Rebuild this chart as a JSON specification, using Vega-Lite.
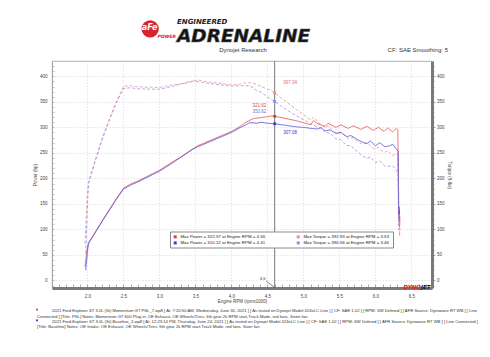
{
"$schema": "https://vega.github.io/schema/vega-lite/v6.json",
"width": 380, "height": 227,
"autosize": {"type": "none"},
"padding": {"left": 52, "top": 61, "right": 58, "bottom": 69},
"background": "white",
"config": {
 "view": {"stroke": "#a0a0a0", "strokeWidth": 0.8},
 "font": "Liberation Sans",
 "axis": {"labelFont": "Liberation Sans", "titleFont": "Liberation Sans", "titleFontWeight": "normal", "labelColor": "#444", "titleColor": "#444"}
},
"data": {"values": [{}]},
"datasets": {
 "curves": [
  {"series":"run1 power","rpm":1.965,"value":27},{"series":"run1 power","rpm":1.98,"value":45},{"series":"run1 power","rpm":1.995,"value":62},{"series":"run1 power","rpm":2.01,"value":73},{"series":"run1 power","rpm":2.03,"value":77.5},{"series":"run1 power","rpm":2.1,"value":93},{"series":"run1 power","rpm":2.2,"value":116},{"series":"run1 power","rpm":2.3,"value":138},{"series":"run1 power","rpm":2.4,"value":160},{"series":"run1 power","rpm":2.5,"value":181},{"series":"run1 power","rpm":2.6,"value":189},{"series":"run1 power","rpm":2.7,"value":195},{"series":"run1 power","rpm":2.8,"value":202},{"series":"run1 power","rpm":2.9,"value":209},{"series":"run1 power","rpm":3.0,"value":216},{"series":"run1 power","rpm":3.1,"value":225},{"series":"run1 power","rpm":3.2,"value":234},{"series":"run1 power","rpm":3.3,"value":242},{"series":"run1 power","rpm":3.4,"value":251},{"series":"run1 power","rpm":3.53,"value":264.1},{"series":"run1 power","rpm":3.6,"value":268},{"series":"run1 power","rpm":3.7,"value":274},{"series":"run1 power","rpm":3.8,"value":280},{"series":"run1 power","rpm":3.9,"value":286},{"series":"run1 power","rpm":4.0,"value":292},{"series":"run1 power","rpm":4.1,"value":300},{"series":"run1 power","rpm":4.2,"value":310},{"series":"run1 power","rpm":4.3,"value":317},{"series":"run1 power","rpm":4.4,"value":319},{"series":"run1 power","rpm":4.5,"value":321},{"series":"run1 power","rpm":4.56,"value":322.57},{"series":"run1 power","rpm":4.6,"value":321.62},{"series":"run1 power","rpm":4.7,"value":319},{"series":"run1 power","rpm":4.8,"value":316},{"series":"run1 power","rpm":4.9,"value":313},{"series":"run1 power","rpm":5.0,"value":309},{"series":"run1 power","rpm":5.1,"value":305},{"series":"run1 power","rpm":5.14,"value":313},{"series":"run1 power","rpm":5.2,"value":307},{"series":"run1 power","rpm":5.3,"value":302},{"series":"run1 power","rpm":5.34,"value":308},{"series":"run1 power","rpm":5.45,"value":300},{"series":"run1 power","rpm":5.52,"value":305},{"series":"run1 power","rpm":5.62,"value":298},{"series":"run1 power","rpm":5.69,"value":303},{"series":"run1 power","rpm":5.8,"value":296},{"series":"run1 power","rpm":5.88,"value":302},{"series":"run1 power","rpm":5.97,"value":294},{"series":"run1 power","rpm":6.04,"value":300},{"series":"run1 power","rpm":6.12,"value":292},{"series":"run1 power","rpm":6.17,"value":299},{"series":"run1 power","rpm":6.24,"value":291},{"series":"run1 power","rpm":6.29,"value":298},{"series":"run1 power","rpm":6.31,"value":295},{"series":"run1 power","rpm":6.32,"value":190},{"series":"run1 power","rpm":6.325,"value":120},{"series":"run1 power","rpm":6.33,"value":140},{"series":"run1 power","rpm":6.335,"value":105},{"series":"run1 power","rpm":6.34,"value":125},
  {"series":"run1 torque","rpm":1.965,"value":72.2},{"series":"run1 torque","rpm":1.98,"value":119.4},{"series":"run1 torque","rpm":1.995,"value":163.2},{"series":"run1 torque","rpm":2.01,"value":190.7},{"series":"run1 torque","rpm":2.03,"value":200.5},{"series":"run1 torque","rpm":2.1,"value":232.6},{"series":"run1 torque","rpm":2.2,"value":276.9},{"series":"run1 torque","rpm":2.3,"value":315.1},{"series":"run1 torque","rpm":2.4,"value":350.1},{"series":"run1 torque","rpm":2.5,"value":380.2},{"series":"run1 torque","rpm":2.6,"value":381.8},{"series":"run1 torque","rpm":2.7,"value":379.3},{"series":"run1 torque","rpm":2.8,"value":378.9},{"series":"run1 torque","rpm":2.9,"value":378.5},{"series":"run1 torque","rpm":3.0,"value":378.1},{"series":"run1 torque","rpm":3.1,"value":381.2},{"series":"run1 torque","rpm":3.2,"value":384.0},{"series":"run1 torque","rpm":3.3,"value":385.1},{"series":"run1 torque","rpm":3.4,"value":387.7},{"series":"run1 torque","rpm":3.53,"value":392.93},{"series":"run1 torque","rpm":3.6,"value":391.0},{"series":"run1 torque","rpm":3.7,"value":388.9},{"series":"run1 torque","rpm":3.8,"value":387.0},{"series":"run1 torque","rpm":3.9,"value":385.1},{"series":"run1 torque","rpm":4.0,"value":383.4},{"series":"run1 torque","rpm":4.1,"value":384.3},{"series":"run1 torque","rpm":4.2,"value":387.6},{"series":"run1 torque","rpm":4.3,"value":387.2},{"series":"run1 torque","rpm":4.4,"value":380.8},{"series":"run1 torque","rpm":4.5,"value":374.6},{"series":"run1 torque","rpm":4.56,"value":371.6},{"series":"run1 torque","rpm":4.6,"value":367.34},{"series":"run1 torque","rpm":4.7,"value":356.5},{"series":"run1 torque","rpm":4.8,"value":345.8},{"series":"run1 torque","rpm":4.9,"value":335.5},{"series":"run1 torque","rpm":5.0,"value":324.6},{"series":"run1 torque","rpm":5.1,"value":314.1},{"series":"run1 torque","rpm":5.14,"value":319.8},{"series":"run1 torque","rpm":5.2,"value":310.1},{"series":"run1 torque","rpm":5.3,"value":299.3},{"series":"run1 torque","rpm":5.34,"value":302.9},{"series":"run1 torque","rpm":5.45,"value":289.1},{"series":"run1 torque","rpm":5.52,"value":290.2},{"series":"run1 torque","rpm":5.62,"value":278.5},{"series":"run1 torque","rpm":5.69,"value":279.7},{"series":"run1 torque","rpm":5.8,"value":268.0},{"series":"run1 torque","rpm":5.88,"value":269.7},{"series":"run1 torque","rpm":5.97,"value":258.6},{"series":"run1 torque","rpm":6.04,"value":260.9},{"series":"run1 torque","rpm":6.12,"value":250.6},{"series":"run1 torque","rpm":6.17,"value":254.5},{"series":"run1 torque","rpm":6.24,"value":244.9},{"series":"run1 torque","rpm":6.29,"value":248.8},{"series":"run1 torque","rpm":6.31,"value":245.5},{"series":"run1 torque","rpm":6.32,"value":157.9},{"series":"run1 torque","rpm":6.325,"value":99.6},{"series":"run1 torque","rpm":6.33,"value":116.2},{"series":"run1 torque","rpm":6.335,"value":87.1},{"series":"run1 torque","rpm":6.34,"value":103.5},
  {"series":"run2 power","rpm":1.975,"value":20},{"series":"run2 power","rpm":1.99,"value":42},{"series":"run2 power","rpm":2.005,"value":63},{"series":"run2 power","rpm":2.02,"value":74},{"series":"run2 power","rpm":2.03,"value":76},{"series":"run2 power","rpm":2.1,"value":92},{"series":"run2 power","rpm":2.2,"value":115},{"series":"run2 power","rpm":2.3,"value":137},{"series":"run2 power","rpm":2.4,"value":159},{"series":"run2 power","rpm":2.5,"value":179},{"series":"run2 power","rpm":2.6,"value":187},{"series":"run2 power","rpm":2.7,"value":193},{"series":"run2 power","rpm":2.8,"value":200},{"series":"run2 power","rpm":2.9,"value":207},{"series":"run2 power","rpm":3.0,"value":214},{"series":"run2 power","rpm":3.1,"value":223},{"series":"run2 power","rpm":3.2,"value":232},{"series":"run2 power","rpm":3.3,"value":242},{"series":"run2 power","rpm":3.4,"value":252},{"series":"run2 power","rpm":3.46,"value":257.3},{"series":"run2 power","rpm":3.55,"value":263},{"series":"run2 power","rpm":3.6,"value":266},{"series":"run2 power","rpm":3.7,"value":272},{"series":"run2 power","rpm":3.8,"value":278},{"series":"run2 power","rpm":3.9,"value":284},{"series":"run2 power","rpm":4.0,"value":290},{"series":"run2 power","rpm":4.1,"value":298},{"series":"run2 power","rpm":4.2,"value":305},{"series":"run2 power","rpm":4.25,"value":309},{"series":"run2 power","rpm":4.3,"value":309},{"series":"run2 power","rpm":4.35,"value":308},{"series":"run2 power","rpm":4.41,"value":310.12},{"series":"run2 power","rpm":4.5,"value":308},{"series":"run2 power","rpm":4.6,"value":307.08},{"series":"run2 power","rpm":4.7,"value":305},{"series":"run2 power","rpm":4.8,"value":303},{"series":"run2 power","rpm":4.9,"value":301},{"series":"run2 power","rpm":5.0,"value":300},{"series":"run2 power","rpm":5.1,"value":298},{"series":"run2 power","rpm":5.2,"value":297},{"series":"run2 power","rpm":5.25,"value":299},{"series":"run2 power","rpm":5.3,"value":293},{"series":"run2 power","rpm":5.37,"value":295},{"series":"run2 power","rpm":5.45,"value":288},{"series":"run2 power","rpm":5.52,"value":290},{"series":"run2 power","rpm":5.6,"value":282},{"series":"run2 power","rpm":5.66,"value":284},{"series":"run2 power","rpm":5.75,"value":276},{"series":"run2 power","rpm":5.82,"value":271},{"series":"run2 power","rpm":5.88,"value":268},{"series":"run2 power","rpm":5.93,"value":273},{"series":"run2 power","rpm":6.0,"value":264},{"series":"run2 power","rpm":6.06,"value":270},{"series":"run2 power","rpm":6.13,"value":262},{"series":"run2 power","rpm":6.2,"value":264},{"series":"run2 power","rpm":6.24,"value":267},{"series":"run2 power","rpm":6.3,"value":256},{"series":"run2 power","rpm":6.315,"value":252},{"series":"run2 power","rpm":6.32,"value":140},{"series":"run2 power","rpm":6.325,"value":130},{"series":"run2 power","rpm":6.33,"value":145},
  {"series":"run2 torque","rpm":1.975,"value":53.2},{"series":"run2 torque","rpm":1.99,"value":110.8},{"series":"run2 torque","rpm":2.005,"value":165.0},{"series":"run2 torque","rpm":2.02,"value":192.4},{"series":"run2 torque","rpm":2.03,"value":196.6},{"series":"run2 torque","rpm":2.1,"value":230.1},{"series":"run2 torque","rpm":2.2,"value":274.5},{"series":"run2 torque","rpm":2.3,"value":312.8},{"series":"run2 torque","rpm":2.4,"value":347.9},{"series":"run2 torque","rpm":2.5,"value":376.0},{"series":"run2 torque","rpm":2.6,"value":377.7},{"series":"run2 torque","rpm":2.7,"value":375.4},{"series":"run2 torque","rpm":2.8,"value":375.1},{"series":"run2 torque","rpm":2.9,"value":374.9},{"series":"run2 torque","rpm":3.0,"value":374.6},{"series":"run2 torque","rpm":3.1,"value":377.8},{"series":"run2 torque","rpm":3.2,"value":380.8},{"series":"run2 torque","rpm":3.3,"value":385.1},{"series":"run2 torque","rpm":3.4,"value":389.3},{"series":"run2 torque","rpm":3.46,"value":390.56},{"series":"run2 torque","rpm":3.55,"value":389.1},{"series":"run2 torque","rpm":3.6,"value":388.1},{"series":"run2 torque","rpm":3.7,"value":386.1},{"series":"run2 torque","rpm":3.8,"value":384.2},{"series":"run2 torque","rpm":3.9,"value":382.5},{"series":"run2 torque","rpm":4.0,"value":380.8},{"series":"run2 torque","rpm":4.1,"value":381.7},{"series":"run2 torque","rpm":4.2,"value":381.4},{"series":"run2 torque","rpm":4.25,"value":381.9},{"series":"run2 torque","rpm":4.3,"value":377.4},{"series":"run2 torque","rpm":4.35,"value":371.9},{"series":"run2 torque","rpm":4.41,"value":369.3},{"series":"run2 torque","rpm":4.5,"value":359.5},{"series":"run2 torque","rpm":4.6,"value":350.62},{"series":"run2 torque","rpm":4.7,"value":340.8},{"series":"run2 torque","rpm":4.8,"value":331.5},{"series":"run2 torque","rpm":4.9,"value":322.6},{"series":"run2 torque","rpm":5.0,"value":315.1},{"series":"run2 torque","rpm":5.1,"value":306.9},{"series":"run2 torque","rpm":5.2,"value":300.0},{"series":"run2 torque","rpm":5.25,"value":299.1},{"series":"run2 torque","rpm":5.3,"value":290.3},{"series":"run2 torque","rpm":5.37,"value":288.5},{"series":"run2 torque","rpm":5.45,"value":277.5},{"series":"run2 torque","rpm":5.52,"value":275.9},{"series":"run2 torque","rpm":5.6,"value":264.5},{"series":"run2 torque","rpm":5.66,"value":263.5},{"series":"run2 torque","rpm":5.75,"value":252.1},{"series":"run2 torque","rpm":5.82,"value":244.5},{"series":"run2 torque","rpm":5.88,"value":239.4},{"series":"run2 torque","rpm":5.93,"value":241.8},{"series":"run2 torque","rpm":6.0,"value":231.1},{"series":"run2 torque","rpm":6.06,"value":234.0},{"series":"run2 torque","rpm":6.13,"value":224.5},{"series":"run2 torque","rpm":6.2,"value":223.6},{"series":"run2 torque","rpm":6.24,"value":224.7},{"series":"run2 torque","rpm":6.3,"value":213.4},{"series":"run2 torque","rpm":6.315,"value":209.6},{"series":"run2 torque","rpm":6.32,"value":116.3},{"series":"run2 torque","rpm":6.325,"value":108.0},{"series":"run2 torque","rpm":6.33,"value":120.3}
 ],
 "cursor": [
  {"series":"run1 torque","value":367.34},{"series":"run2 torque","value":350.62},{"series":"run1 power","value":321.62},{"series":"run2 power","value":307.08}
 ]
},
"layer": [
 {
  "data": {"name": "curves"},
  "mark": {"type": "line", "strokeWidth": 0.75},
  "encoding": {
   "x": {"field": "rpm", "type": "quantitative", "scale": {"domain": [1.507, 6.785], "nice": false, "zero": false},
    "axis": {"orient": "bottom", "values": [2,2.5,3,3.5,4,4.5,5,5.5,6,6.5], "format": ".1f", "grid": true, "gridColor": "#d4d4d4", "gridDash": [1.5,1.5], "gridWidth": 0.6, "domainColor": "#7a7a7a", "domainWidth": 3, "ticks": false, "labelFontSize": 4.5, "labelPadding": 5, "title": "Engine RPM (rpmx1000)", "titleFontSize": 4.5, "titlePadding": 1}},
   "y": {"field": "value", "type": "quantitative", "scale": {"domain": [-14.7, 430], "nice": false, "zero": false},
    "axis": {"orient": "left", "values": [0,50,100,150,200,250,300,350,400], "grid": true, "gridColor": "#d4d4d4", "gridDash": [1.5,1.5], "gridWidth": 0.6, "domainColor": "#a0a0a0", "domainWidth": 0.8, "ticks": false, "labelFontSize": 4.5, "labelPadding": 5, "title": "Power (hp)", "titleFontSize": 4.5, "titlePadding": 2}},
   "color": {"field": "series", "type": "nominal",
    "scale": {"domain": ["run1 power","run1 torque","run2 power","run2 torque"], "range": ["#e03c3c","#f08c8c","#3c3cdc","#8c8cf0"]},
    "legend": {"title": null, "orient": "none", "direction": "horizontal", "legendX": 118, "legendY": 170.5, "columns": 2, "symbolType": "square", "symbolSize": 9, "labelFontSize": 4.4, "labelColor": "#222", "labelOffset": 3, "columnPadding": 30, "rowPadding": 1.2, "padding": 3, "strokeColor": "#888", "fillColor": "white",
     "labelExpr": "datum.label == 'run1 power' ? 'Max Power = 322.57 at Engine RPM = 4.56' : datum.label == 'run1 torque' ? 'Max Torque = 392.93 at Engine RPM = 3.53' : datum.label == 'run2 power' ? 'Max Power = 310.12 at Engine RPM = 4.41' : 'Max Torque = 390.56 at Engine RPM = 3.46'",
     "encode": {"symbols": {"update": {"fill": {"scale": "color", "field": "value"}, "strokeWidth": {"value": 0}}}}}},
   "strokeDash": {"field": "series", "type": "nominal", "scale": {"domain": ["run1 power","run1 torque","run2 power","run2 torque"], "range": [[1,0],[3,2],[1,0],[3,2]]}, "legend": null}
  }
 },
 {
  "mark": {"type": "point", "opacity": 0},
  "encoding": {
   "x": {"datum": 4, "type": "quantitative", "axis": null},
   "y": {"datum": 200, "type": "quantitative", "axis": {"orient": "right", "values": [0,50,100,150,200,250,300,350,400], "grid": false, "domainColor": "#7a7a7a", "domainWidth": 3, "ticks": true, "tickSize": 3, "tickColor": "#777", "tickWidth": 0.6, "labelFontSize": 4.5, "labelPadding": 1.5, "title": "Torque (ft-lbs)", "titleFontSize": 4.5, "titlePadding": 2}}
  }
 },
 {
  "mark": {"type": "point", "opacity": 0},
  "encoding": {
   "x": {"datum": 4, "type": "quantitative", "axis": {"orient": "bottom", "values": [1.6,1.7,1.8,1.9,2,2.1,2.2,2.3,2.4,2.5,2.6,2.7,2.8,2.9,3,3.1,3.2,3.3,3.4,3.5,3.6,3.7,3.8,3.9,4,4.1,4.2,4.3,4.4,4.5,4.6,4.7,4.8,4.9,5,5.1,5.2,5.3,5.4,5.5,5.6,5.7,5.8,5.9,6,6.1,6.2,6.3,6.4,6.5,6.6,6.7], "labels": false, "domain": false, "grid": false, "ticks": true, "tickSize": -4, "tickColor": "#777", "tickWidth": 0.6, "title": null}},
   "y": {"datum": 200, "type": "quantitative", "axis": {"orient": "left", "values": [-10,0,10,20,30,40,50,60,70,80,90,100,110,120,130,140,150,160,170,180,190,200,210,220,230,240,250,260,270,280,290,300,310,320,330,340,350,360,370,380,390,400,410,420], "labels": false, "domain": false, "grid": false, "ticks": true, "tickSize": -2, "tickColor": "#888", "tickWidth": 0.5, "title": null}}
  }
 },
 {
  "mark": {"type": "point", "opacity": 0},
  "encoding": {
   "x": {"datum": 4, "type": "quantitative", "axis": null},
   "y": {"datum": 200, "type": "quantitative", "axis": {"orient": "right", "values": [-10,0,10,20,30,40,50,60,70,80,90,100,110,120,130,140,150,160,170,180,190,200,210,220,230,240,250,260,270,280,290,300,310,320,330,340,350,360,370,380,390,400,410,420], "labels": false, "domain": false, "grid": false, "ticks": true, "tickSize": 2, "tickColor": "#777", "tickWidth": 0.5, "title": null}}
  }
 },
 {
  "mark": {"type": "rule", "color": "#555", "strokeWidth": 0.8},
  "encoding": {"x": {"datum": 4.6, "type": "quantitative", "axis": null}}
 },
 {
  "data": {"name": "cursor"},
  "mark": {"type": "square", "size": 8, "filled": true, "opacity": 1},
  "encoding": {
   "x": {"datum": 4.6, "type": "quantitative", "axis": null},
   "y": {"field": "value", "type": "quantitative", "axis": null},
   "color": {"field": "series", "type": "nominal", "legend": null}
  }
 },
 {
  "data": {"name": "cursor"},
  "transform": [{"filter": "datum.series == 'run1 torque'"}],
  "mark": {"type": "text", "align": "left", "fontSize": 4.5, "color": "#e07070"},
  "encoding": {"x": {"datum": 4.72, "type": "quantitative", "axis": null}, "y": {"datum": 387.5, "type": "quantitative", "axis": null}, "text": {"field": "value", "format": ".2f"}}
 },
 {
  "data": {"name": "cursor"},
  "transform": [{"filter": "datum.series == 'run2 power'"}],
  "mark": {"type": "text", "align": "left", "fontSize": 4.5, "color": "#3838c0"},
  "encoding": {"x": {"datum": 4.72, "type": "quantitative", "axis": null}, "y": {"datum": 288.3, "type": "quantitative", "axis": null}, "text": {"field": "value", "format": ".2f"}}
 },
 {
  "data": {"name": "cursor"},
  "transform": [{"filter": "datum.series == 'run1 power'"}],
  "mark": {"type": "text", "align": "right", "fontSize": 4.5, "color": "#c85050"},
  "encoding": {"x": {"datum": 4.482, "type": "quantitative", "axis": null}, "y": {"datum": 342.4, "type": "quantitative", "axis": null}, "text": {"field": "value", "format": ".2f"}}
 },
 {
  "data": {"name": "cursor"},
  "transform": [{"filter": "datum.series == 'run2 torque'"}],
  "mark": {"type": "text", "align": "right", "fontSize": 4.5, "color": "#7070d0"},
  "encoding": {"x": {"datum": 4.482, "type": "quantitative", "axis": null}, "y": {"datum": 330, "type": "quantitative", "axis": null}, "text": {"field": "value", "format": ".2f"}}
 },
 {
  "mark": {"type": "text", "text": "4.6", "fontSize": 4.3, "color": "#444"},
  "encoding": {"x": {"datum": 4.433, "type": "quantitative", "axis": null}, "y": {"datum": 3.5, "type": "quantitative", "axis": null}}
 },
 {
  "mark": {"type": "rule", "color": "#333", "strokeWidth": 0.6},
  "encoding": {"x": {"datum": 4.48, "type": "quantitative", "axis": null}, "x2": {"datum": 4.59}, "y": {"datum": -1, "type": "quantitative", "axis": null}, "y2": {"datum": -12.5}}
 },
 {
  "mark": {"type": "text", "text": "DYNO", "align": "right", "fontSize": 5.5, "fontWeight": "bold", "fontStyle": "italic", "font": "DejaVu Sans", "color": "#e02020"},
  "encoding": {"x": {"datum": 6.632, "type": "quantitative", "axis": null}, "y": {"datum": -13.7, "type": "quantitative", "axis": null}}
 },
 {
  "mark": {"type": "text", "text": "JET", "align": "left", "fontSize": 5.5, "fontWeight": "bold", "fontStyle": "italic", "font": "DejaVu Sans", "color": "#111"},
  "encoding": {"x": {"datum": 6.632, "type": "quantitative", "axis": null}, "y": {"datum": -13.7, "type": "quantitative", "axis": null}}
 },
 {
  "mark": {"type": "circle", "size": 300, "color": "#d6262b", "opacity": 1},
  "encoding": {"x": {"datum": 2.87, "type": "quantitative", "axis": null}, "y": {"datum": 493, "type": "quantitative", "axis": null}}
 },
 {
  "mark": {"type": "text", "text": "aFe", "fontSize": 8, "fontWeight": "bold", "fontStyle": "italic", "font": "DejaVu Sans", "color": "white"},
  "encoding": {"x": {"datum": 2.862, "type": "quantitative", "axis": null}, "y": {"datum": 495, "type": "quantitative", "axis": null}}
 },
 {
  "mark": {"type": "text", "text": "POWER", "fontSize": 4.5, "fontWeight": "bold", "fontStyle": "italic", "font": "DejaVu Sans", "color": "#d6262b"},
  "encoding": {"x": {"datum": 3.1, "type": "quantitative", "axis": null}, "y": {"datum": 477.5, "type": "quantitative", "axis": null}}
 },
 {
  "mark": {"type": "text", "text": "ENGINEERED", "align": "left", "baseline": "alphabetic", "fontSize": 7, "fontWeight": "bold", "fontStyle": "italic", "font": "DejaVu Sans", "color": "#222"},
  "encoding": {"x": {"datum": 3.243, "type": "quantitative", "axis": null}, "y": {"datum": 502.8, "type": "quantitative", "axis": null}}
 },
 {
  "mark": {"type": "text", "text": "ADRENALINE", "align": "left", "baseline": "alphabetic", "fontSize": 18.5, "fontWeight": "bold", "fontStyle": "italic", "font": "DejaVu Sans", "color": "#111", "stroke": "#555", "strokeWidth": 0.6},
  "encoding": {"x": {"datum": 3.243, "type": "quantitative", "axis": null}, "y": {"datum": 466.8, "type": "quantitative", "axis": null}}
 },
 {
  "mark": {"type": "text", "text": "Dynojet Research", "fontSize": 6, "color": "#333"},
  "encoding": {"x": {"datum": 4.16, "type": "quantitative", "axis": null}, "y": {"datum": 451.5, "type": "quantitative", "axis": null}}
 },
 {
  "mark": {"type": "text", "text": "CF: SAE Smoothing: 5", "align": "right", "fontSize": 6, "color": "#333"},
  "encoding": {"x": {"datum": 7.007, "type": "quantitative", "axis": null}, "y": {"datum": 451.5, "type": "quantitative", "axis": null}}
 },
 {
  "mark": {"type": "square", "size": 3, "filled": true, "color": "#e02020", "opacity": 1},
  "encoding": {"x": {"datum": 1.299, "type": "quantitative", "axis": null}, "y": {"datum": -57.2, "type": "quantitative", "axis": null}}
 },
 {
  "mark": {"type": "square", "size": 3, "filled": true, "color": "#2020e0", "opacity": 1},
  "encoding": {"x": {"datum": 1.299, "type": "quantitative", "axis": null}, "y": {"datum": -78.0, "type": "quantitative", "axis": null}}
 },
 {
  "mark": {"type": "text", "align": "left", "fontSize": 4.2, "color": "#333", "text": "2021 Ford Explorer ST 3.0L (St) Momentum GT PSL_7.wp8 [ At: 7:20:50 AM, Wednesday, June 30, 2021 ] [ As tested on Dynojet Model 424xLC Line ] [ CF: SAE 1.02 ] [ RPM: SW Defined ] [ AFR Source: Dynoware RT WB ] [ Line"},
  "encoding": {"x": {"datum": 1.507, "type": "quantitative", "axis": null}, "y": {"datum": -60.4, "type": "quantitative", "axis": null}}
 },
 {
  "mark": {"type": "text", "align": "left", "fontSize": 4.2, "color": "#333", "text": "Connected ] [Title: PSL]  Notes: Momentum GT 600 Plug in, OE Exhaust, OE Wheels/Tires, 6th gear 2k RPM start,Track Mode, red fans, Siven fan"},
  "encoding": {"x": {"datum": 1.299, "type": "quantitative", "axis": null}, "y": {"datum": -70.9, "type": "quantitative", "axis": null}}
 },
 {
  "mark": {"type": "text", "align": "left", "fontSize": 4.2, "color": "#333", "text": "2021 Ford Explorer ST 3.0L (St) Baseline_2.wp8 [ At: 12:23:14 PM, Thursday, June 24, 2021 ] [ As tested on Dynojet Model 424xLC Line ] [ CF: SAE 1.02 ] [ RPM: SW Defined ] [ AFR Source: Dynoware RT WB ] [ Line Connected ]"},
  "encoding": {"x": {"datum": 1.507, "type": "quantitative", "axis": null}, "y": {"datum": -81.9, "type": "quantitative", "axis": null}}
 },
 {
  "mark": {"type": "text", "align": "left", "fontSize": 4.2, "color": "#333", "text": "[Title: Baseline]  Notes: OE Intake, OE Exhaust, OE Wheels/Tires, 6th gear 2k RPM start,Track Mode, red fans, Siver fan"},
  "encoding": {"x": {"datum": 1.299, "type": "quantitative", "axis": null}, "y": {"datum": -91.7, "type": "quantitative", "axis": null}}
 }
],
"resolve": {"axis": {"x": "independent", "y": "independent"}}
}
